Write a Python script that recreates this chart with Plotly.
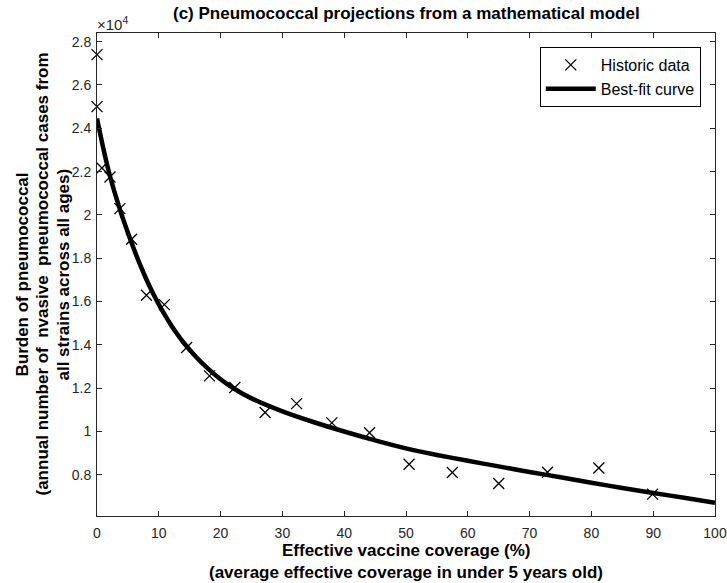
import plotly.graph_objects as go

# Historic data (effective coverage %, annual cases)
hist_x = [0.0, 0.0, 0.8, 2.1, 3.7, 5.6, 8.0, 10.9, 14.5, 18.2, 22.3, 27.2, 32.3, 38.0, 44.1, 50.5, 57.5, 65.0, 72.9, 81.2, 89.9]
hist_y = [27400, 25000, 22170, 21750, 20290, 18880, 16290, 15860, 13880, 12570, 12030, 10880, 11290, 10400, 9940, 8490, 8110, 7600, 8120, 8320, 7110]

# Best-fit curve readings
fit_x = [0, 1, 2, 3, 4, 5, 6, 7, 8, 9, 10, 11, 12, 13, 14, 16, 18, 20, 22, 25, 30, 35, 40, 45, 50, 55, 60, 65, 70, 75, 80, 85, 90, 95, 100]
fit_y = [24450, 23100, 21900, 20900, 20000, 19180, 18400, 17680, 17020, 16420, 15870, 15370, 14910, 14490, 14110,
         13450, 12890, 12410, 12010, 11530, 10930, 10440, 10000, 9590, 9220, 8920, 8650, 8390, 8135, 7885, 7635,
         7395, 7165, 6940, 6715]

x_ticks = [0, 10, 20, 30, 40, 50, 60, 70, 80, 90, 100]
y_tickvals = [8000, 10000, 12000, 14000, 16000, 18000, 20000, 22000, 24000, 26000, 28000]
y_ticktext = ["0.8", "1", "1.2", "1.4", "1.6", "1.8", "2", "2.2", "2.4", "2.6", "2.8"]

FONT = "Liberation Sans, Arial, Helvetica, sans-serif"
AX = "#262626"

fig = go.Figure()
fig.add_trace(go.Scatter(
    x=hist_x, y=hist_y, mode="markers", name="Historic data",
    marker=dict(symbol="x-thin-open", size=11, color="black", line=dict(color="black", width=1.3)),
    cliponaxis=False,
))
fig.add_trace(go.Scatter(
    x=fit_x, y=fit_y, mode="lines", name="Best-fit curve",
    line=dict(color="black", width=4.5, shape="spline", smoothing=0.6),
))

fig.update_layout(
    width=727, height=583,
    margin=dict(l=97, r=12, t=33, b=67, autoexpand=False),
    paper_bgcolor="white", plot_bgcolor="white",
    font=dict(family=FONT, size=14, color=AX),
    showlegend=True,
    legend=dict(
        x=0.977, y=0.971, xanchor="right", yanchor="top",
        bgcolor="white", bordercolor="black", borderwidth=1,
        font=dict(family=FONT, size=16, color="black"),
        tracegroupgap=0, itemwidth=50,
    ),
    xaxis=dict(
        range=[0, 100], tickvals=x_ticks, ticks="inside", ticklen=5, tickcolor=AX,
        showline=True, linecolor=AX, linewidth=1, mirror="ticks", showgrid=False, zeroline=False,
        tickfont=dict(size=14, color=AX), automargin=False, ticklabelstandoff=4,
    ),
    yaxis=dict(
        range=[6100, 28400], tickvals=y_tickvals, ticktext=y_ticktext, ticks="inside", ticklen=5, tickcolor=AX,
        showline=True, linecolor=AX, linewidth=1, mirror="ticks", showgrid=False, zeroline=False,
        tickfont=dict(size=14, color=AX), automargin=False, ticklabelstandoff=2,
    ),
    annotations=[
        dict(text="<b>(c) Pneumococcal projections from a mathematical model</b>", x=0.5, y=1,
             xref="paper", yref="paper", xanchor="center", yanchor="middle", yshift=20,
             showarrow=False, font=dict(size=17, color="black")),
        dict(text="×10<sup>4</sup>", xref="paper", yref="paper", x=0, y=1, xanchor="left", yanchor="bottom",
             showarrow=False, font=dict(size=15, color=AX), yshift=-2, xshift=-2),
        dict(text="<b>Effective vaccine coverage (%)</b>", xref="paper", yref="paper", x=0.5, y=0,
             xanchor="center", yanchor="middle", yshift=-34, showarrow=False, font=dict(size=17, color="black")),
        dict(text="<b>(average effective coverage in under 5 years old)</b>", xref="paper", yref="paper", x=0.5, y=0,
             xanchor="center", yanchor="middle", yshift=-56, showarrow=False, font=dict(size=17, color="black")),
        dict(text="<b>Burden of pneumococcal</b>", xref="paper", yref="paper", x=0, y=0.5,
             xanchor="center", yanchor="middle", xshift=-75, textangle=-90, showarrow=False,
             font=dict(size=17, color="black")),
        dict(text="<b>(annual number of  nvasive  pneumococcal cases from</b>", xref="paper", yref="paper", x=0, y=0.5,
             xanchor="center", yanchor="middle", xshift=-55, textangle=-90, showarrow=False,
             font=dict(size=17, color="black")),
        dict(text="<b>all strains across all ages)</b>", xref="paper", yref="paper", x=0, y=0.5,
             xanchor="center", yanchor="middle", xshift=-34, textangle=-90, showarrow=False,
             font=dict(size=17, color="black")),
    ],
)

fig.write_html("out.html")
